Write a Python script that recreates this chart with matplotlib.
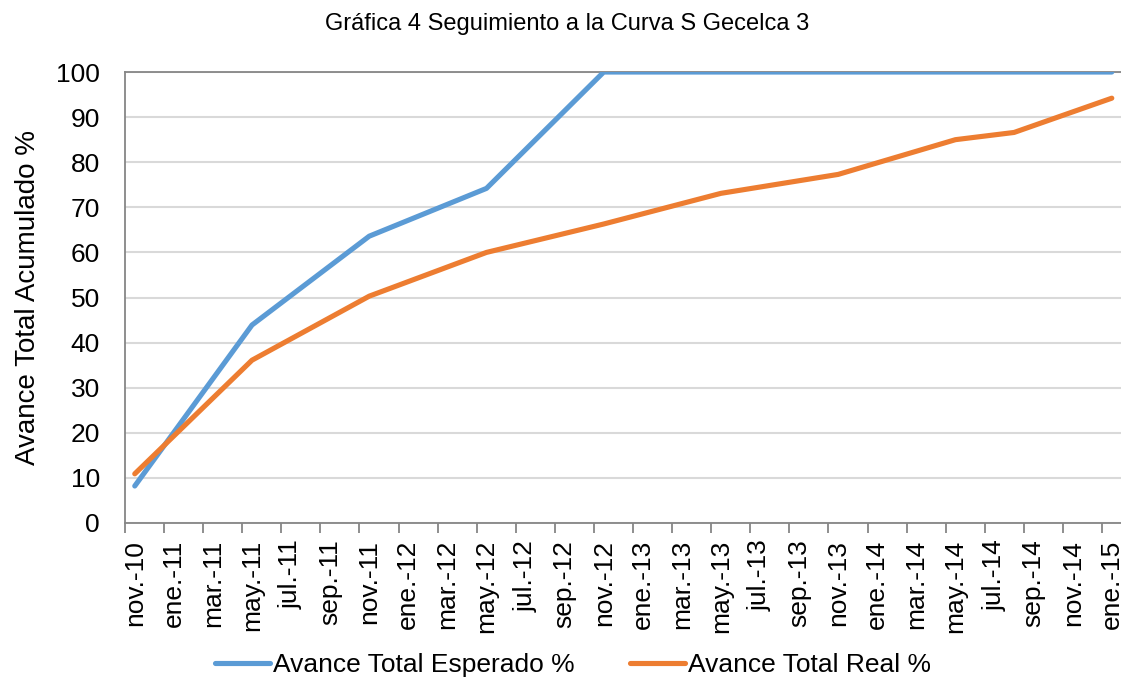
import matplotlib
matplotlib.use('Agg')
import matplotlib.pyplot as plt
import numpy as np

plt.rcParams['font.family'] = ['Liberation Sans', 'DejaVu Sans']

# ── data ────────────────────────────────────────────────────────────────
month_names = ['nov.', 'dic.', 'ene.', 'feb.', 'mar.', 'abr.', 'may.', 'jun.',
               'jul.', 'ago.', 'sep.', 'oct.']
n_months = 51  # nov-10 .. ene-15
months = []
for i in range(n_months):
    m = month_names[i % 12]
    yr = 10 + (i + 10) // 12
    months.append(f'{m}-{yr}')

esperado_dates = ['nov.-10', 'may.-11', 'nov.-11', 'may.-12', 'nov.-12', 'ene.-15']
esperado_vals = [8.2, 43.9, 63.6, 74.2, 100, 100]

real_dates = ['nov.-10', 'may.-11', 'nov.-11', 'may.-12', 'nov.-12', 'may.-13',
              'nov.-13', 'may.-14', 'ago.-14', 'ene.-15']
real_vals = [10.9, 36.1, 50.3, 60.0, 66.3, 73.1, 77.3, 85.0, 86.6, 94.2]

blue = '#5B9BD5'
orange = '#ED7D31'

fig = plt.figure(figsize=(11.21, 6.84), dpi=100)
ax = fig.add_axes([0.1115, 0.2354, 0.889, 0.6593])

xe = [months.index(d) for d in esperado_dates]
xr = [months.index(d) for d in real_dates]
ax.plot(xe, esperado_vals, color=blue, lw=3.7, solid_capstyle='round',
        solid_joinstyle='round', label='Avance Total Esperado %', zorder=3)
ax.plot(xr, real_vals, color=orange, lw=3.7, solid_capstyle='round',
        solid_joinstyle='round', label='Avance Total Real %', zorder=3)

ax.set_xlim(-0.5, n_months - 0.5)
ax.set_ylim(0, 100)

# labels at every 2nd month, tick marks between categories
lab_pos = np.arange(0, n_months, 2)
ax.set_xticks(lab_pos)
ax.set_xticklabels([months[i] for i in lab_pos], rotation=90, fontsize=19)
ax.tick_params(axis='x', which='major', length=0, pad=12)
ax.set_xticks(lab_pos - 0.5, minor=True)
ax.tick_params(axis='x', which='minor', length=7, width=1.3, color='#868686')

ax.set_yticks(range(0, 101, 10))
ax.tick_params(axis='y', length=0, labelsize=19, pad=18)
ax.grid(axis='y', color='#d9d9d9', lw=1.5, zorder=0)

for s in ['left', 'bottom', 'top']:
    ax.spines[s].set_color('#868686')
    ax.spines[s].set_linewidth(1.3)
ax.spines['right'].set_visible(False)

ax.set_ylabel('Avance Total Acumulado %', fontsize=20, labelpad=11)
fig.text(0.506, 0.965, 'Gráfica 4 Seguimiento a la Curva S Gecelca 3',
         ha='center', va='center', fontsize=17)

fig.legend(loc='center', bbox_to_anchor=(0.511, 0.028), ncol=2, frameon=False,
           fontsize=19, handlelength=2.1, handletextpad=0.1, columnspacing=2.1)

fig.savefig('out.png', dpi=100)
